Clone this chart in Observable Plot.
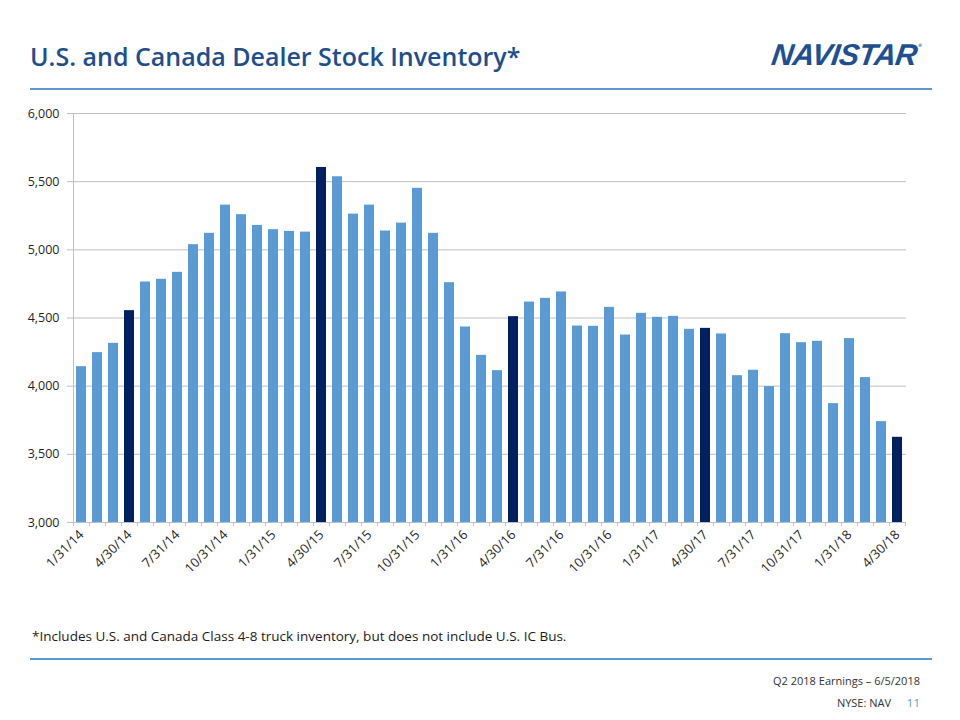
<!DOCTYPE html>
<html>
<head>
<meta charset="utf-8">
<script src="https://cdn.jsdelivr.net/npm/d3@7"></script>
<script src="https://cdn.jsdelivr.net/npm/@observablehq/plot@0.6"></script>
<style>
  html, body { margin: 0; padding: 0; background: #fff; }
  #page { position: relative; width: 960px; height: 720px; overflow: hidden; font-family: "Open Sans", sans-serif; }
  .abs { position: absolute; white-space: nowrap; line-height: 1; }
  #title { left: 30px; top: 44px; font-size: 25px; font-weight: 600; color: #1f4e8c; }
  #logo { left: 772px; top: 40px; font-family: "Liberation Sans", Arial, sans-serif; font-weight: bold; font-style: italic; font-size: 30px; color: #1d4f91; transform: skewX(-8deg); letter-spacing: -0.5px; }
  #logo sup { font-size: 5px; vertical-align: 18px; font-style: normal; }
  .rule { position: absolute; left: 30px; width: 902px; height: 2px; background: #5b9bd5; }
  #note { left: 32px; top: 630px; font-size: 13.5px; color: #1a1a1a; }
  #earn { right: 40px; top: 675px; font-size: 11px; color: #333; }
  #nyse { right: 69px; top: 697px; font-size: 11px; color: #333; }
  #pg { right: 40px; top: 697px; font-size: 11.5px; color: #5b9bd5; }
  #chart { position: absolute; left: 0; top: 100px; }
</style>
</head>
<body>
<div id="page">
  <div id="title" class="abs">U.S. and Canada Dealer Stock Inventory*</div>
  <div id="logo" class="abs">NAVISTAR<sup>®</sup></div>
  <div class="rule" style="top:88px"></div>
  <div id="chart"></div>
  <div id="note" class="abs">*Includes U.S. and Canada Class 4-8 truck inventory, but does not include U.S. IC Bus.</div>
  <div class="rule" style="top:658px"></div>
  <div id="earn" class="abs">Q2 2018 Earnings – 6/5/2018</div>
  <div id="nyse" class="abs">NYSE: NAV</div>
  <div id="pg" class="abs">11</div>
</div>
<script>
// Month-end dates (categories)
const dates = [
  "1/31/14","2/28/14","3/31/14","4/30/14","5/31/14","6/30/14","7/31/14","8/31/14","9/30/14","10/31/14","11/30/14","12/31/14",
  "1/31/15","2/28/15","3/31/15","4/30/15","5/31/15","6/30/15","7/31/15","8/31/15","9/30/15","10/31/15","11/30/15","12/31/15",
  "1/31/16","2/29/16","3/31/16","4/30/16","5/31/16","6/30/16","7/31/16","8/31/16","9/30/16","10/31/16","11/30/16","12/31/16",
  "1/31/17","2/28/17","3/31/17","4/30/17","5/31/17","6/30/17","7/31/17","8/31/17","9/30/17","10/31/17","11/30/17","12/31/17",
  "1/31/18","2/28/18","3/31/18","4/30/18"
];
// Dealer stock inventory (units)
const inventory = [
  4143,4246,4314,4554,4764,4784,4835,5038,5121,5328,5258,5179,
  5148,5135,5130,5604,5536,5262,5328,5138,5196,5451,5121,4759,
  4434,4226,4114,4510,4617,4644,4691,4441,4439,4578,4375,4534,
  4505,4512,4417,4424,4383,4077,4117,3997,4385,4319,4329,3872,
  4349,4063,3740,3625
];
// Highlighted (fiscal Q2 end) months
const highlighted = ["4/30/14","4/30/15","4/30/16","4/30/17","4/30/18"];
// Axis ticks
const xTickLabels = ["1/31/14","4/30/14","7/31/14","10/31/14","1/31/15","4/30/15","7/31/15","10/31/15","1/31/16","4/30/16","7/31/16","10/31/16","1/31/17","4/30/17","7/31/17","10/31/17","1/31/18","4/30/18"];
const yTicks = [3000, 3500, 4000, 4500, 5000, 5500, 6000];

const rows = dates.map((d, i) => ({date: d, value: inventory[i], hi: highlighted.includes(d)}));

const W = 960, ML = 71, MR = 54;
const step = (W - ML - MR) / dates.length;
const gray = "#bfbfbf";

const chart = Plot.plot({
  width: W,
  height: 500,
  marginTop: 13,
  marginBottom: 78,
  marginLeft: ML,
  marginRight: MR,
  style: {fontFamily: "Open Sans, sans-serif", fontSize: "12.5px", color: "#1f1f1f", background: "transparent"},
  x: {domain: dates, paddingInner: 0.375, paddingOuter: 0.1875, label: null},
  y: {domain: [3000, 6000], label: null},
  marks: [
    Plot.gridY(yTicks, {stroke: gray, strokeOpacity: 1, strokeWidth: 1}),
    Plot.ruleX([dates[0]], {dx: -step / 2, stroke: gray, strokeWidth: 1}),
    Plot.barY(rows, {x: "date", y1: 3000, y2: "value", fill: d => d.hi ? "#002060" : "#5b9bd5"}),
    Plot.axisY({ticks: yTicks, tickFormat: d3.format(","), tickSize: 4, tickPadding: 8, stroke: gray, fontSize: 12.5}),
    Plot.axisX({ticks: dates, tickSize: 4, dx: -step / 2, stroke: gray, tickFormat: () => ""}),
    Plot.axisX({ticks: [dates[dates.length - 1]], tickSize: 4, dx: step / 2, stroke: gray, tickFormat: () => ""}),
    Plot.axisX({ticks: xTickLabels, tickSize: 0, tickPadding: 10, tickRotate: -45, fontSize: 13})
  ]
});
document.getElementById("chart").appendChild(chart);
</script>
</body>
</html>
